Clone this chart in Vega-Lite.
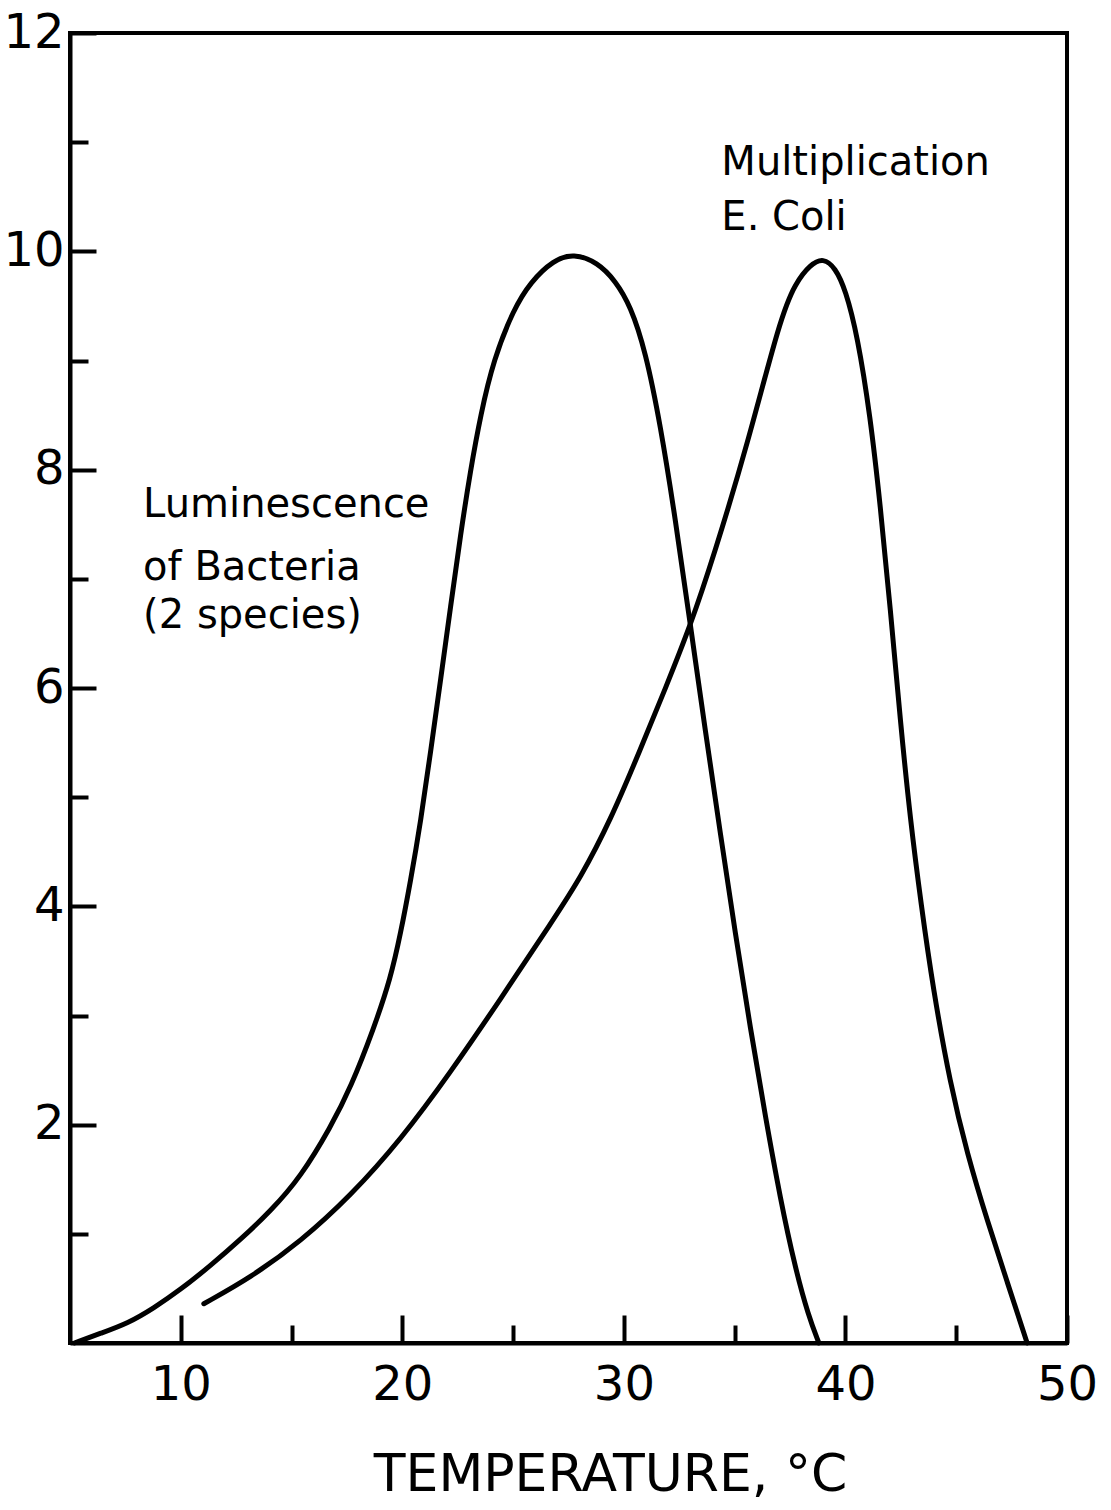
{
  "$schema": "https://vega.github.io/schema/vega-lite/v6.json",
  "autosize": "none",
  "width": 997,
  "height": 1310,
  "padding": {"left": 70, "top": 33, "right": 44, "bottom": 167},
  "background": "white",
  "config": {
    "view": {"stroke": "black", "strokeWidth": 4},
    "font": "DejaVu Sans"
  },
  "datasets": {
    "curves": [
      {"series": "Luminescence", "t": 5.2, "v": 0},
      {"series": "Luminescence", "t": 6.39, "v": 0.09},
      {"series": "Luminescence", "t": 7.61, "v": 0.18},
      {"series": "Luminescence", "t": 8.78, "v": 0.32},
      {"series": "Luminescence", "t": 10.0, "v": 0.49},
      {"series": "Luminescence", "t": 11.35, "v": 0.71},
      {"series": "Luminescence", "t": 12.71, "v": 0.95},
      {"series": "Luminescence", "t": 14.06, "v": 1.21},
      {"series": "Luminescence", "t": 15.41, "v": 1.52},
      {"series": "Luminescence", "t": 16.77, "v": 1.98},
      {"series": "Luminescence", "t": 17.67, "v": 2.34},
      {"series": "Luminescence", "t": 18.71, "v": 2.88},
      {"series": "Luminescence", "t": 19.47, "v": 3.34},
      {"series": "Luminescence", "t": 19.92, "v": 3.75},
      {"series": "Luminescence", "t": 20.37, "v": 4.23},
      {"series": "Luminescence", "t": 20.83, "v": 4.78},
      {"series": "Luminescence", "t": 21.28, "v": 5.42},
      {"series": "Luminescence", "t": 21.73, "v": 6.08},
      {"series": "Luminescence", "t": 22.18, "v": 6.75},
      {"series": "Luminescence", "t": 22.63, "v": 7.41},
      {"series": "Luminescence", "t": 23.08, "v": 8.0},
      {"series": "Luminescence", "t": 23.53, "v": 8.5},
      {"series": "Luminescence", "t": 24.12, "v": 9.01},
      {"series": "Luminescence", "t": 25.02, "v": 9.47},
      {"series": "Luminescence", "t": 25.79, "v": 9.72},
      {"series": "Luminescence", "t": 26.82, "v": 9.92},
      {"series": "Luminescence", "t": 27.73, "v": 9.98},
      {"series": "Luminescence", "t": 28.81, "v": 9.9},
      {"series": "Luminescence", "t": 29.62, "v": 9.73},
      {"series": "Luminescence", "t": 30.3, "v": 9.5},
      {"series": "Luminescence", "t": 30.97, "v": 9.09},
      {"series": "Luminescence", "t": 31.65, "v": 8.41},
      {"series": "Luminescence", "t": 32.33, "v": 7.54},
      {"series": "Luminescence", "t": 33.0, "v": 6.58},
      {"series": "Luminescence", "t": 33.68, "v": 5.6},
      {"series": "Luminescence", "t": 34.36, "v": 4.66},
      {"series": "Luminescence", "t": 35.03, "v": 3.75},
      {"series": "Luminescence", "t": 35.71, "v": 2.88},
      {"series": "Luminescence", "t": 36.39, "v": 2.07},
      {"series": "Luminescence", "t": 37.06, "v": 1.32},
      {"series": "Luminescence", "t": 37.74, "v": 0.68},
      {"series": "Luminescence", "t": 38.33, "v": 0.25},
      {"series": "Luminescence", "t": 38.8, "v": 0},
      {"series": "E. Coli", "t": 11.04, "v": 0.36},
      {"series": "E. Coli", "t": 13.16, "v": 0.6},
      {"series": "E. Coli", "t": 15.41, "v": 0.93},
      {"series": "E. Coli", "t": 17.67, "v": 1.35},
      {"series": "E. Coli", "t": 19.92, "v": 1.86},
      {"series": "E. Coli", "t": 22.18, "v": 2.48},
      {"series": "E. Coli", "t": 24.43, "v": 3.15},
      {"series": "E. Coli", "t": 26.82, "v": 3.88},
      {"series": "E. Coli", "t": 28.04, "v": 4.26},
      {"series": "E. Coli", "t": 29.4, "v": 4.79},
      {"series": "E. Coli", "t": 30.75, "v": 5.44},
      {"series": "E. Coli", "t": 31.88, "v": 6.0},
      {"series": "E. Coli", "t": 33.0, "v": 6.57},
      {"series": "E. Coli", "t": 34.04, "v": 7.2},
      {"series": "E. Coli", "t": 35.58, "v": 8.23},
      {"series": "E. Coli", "t": 37.06, "v": 9.39},
      {"series": "E. Coli", "t": 37.74, "v": 9.71},
      {"series": "E. Coli", "t": 38.42, "v": 9.88},
      {"series": "E. Coli", "t": 39.0, "v": 9.94},
      {"series": "E. Coli", "t": 39.54, "v": 9.85},
      {"series": "E. Coli", "t": 40.0, "v": 9.65},
      {"series": "E. Coli", "t": 40.54, "v": 9.23},
      {"series": "E. Coli", "t": 41.12, "v": 8.49},
      {"series": "E. Coli", "t": 41.57, "v": 7.68},
      {"series": "E. Coli", "t": 42.03, "v": 6.72},
      {"series": "E. Coli", "t": 42.48, "v": 5.69},
      {"series": "E. Coli", "t": 42.93, "v": 4.79},
      {"series": "E. Coli", "t": 43.42, "v": 4.01},
      {"series": "E. Coli", "t": 43.96, "v": 3.24},
      {"series": "E. Coli", "t": 44.73, "v": 2.37},
      {"series": "E. Coli", "t": 45.5, "v": 1.73},
      {"series": "E. Coli", "t": 46.4, "v": 1.12},
      {"series": "E. Coli", "t": 47.3, "v": 0.56},
      {"series": "E. Coli", "t": 48.2, "v": 0}
    ],
    "notes": [
      {"t": 34.4, "v": 10.7, "text": "Multiplication"},
      {"t": 34.4, "v": 10.2, "text": "E. Coli"},
      {"t": 8.3, "v": 7.57, "text": "Luminescence"},
      {"t": 8.3, "v": 6.99, "text": "of Bacteria"},
      {"t": 8.3, "v": 6.55, "text": "(2 species)"}
    ]
  },
  "layer": [
    {
      "data": {"name": "curves"},
      "mark": {"type": "line", "interpolate": "basis", "color": "black", "strokeWidth": 5, "strokeCap": "round", "strokeJoin": "round"},
      "encoding": {
        "x": {
          "field": "t", "type": "quantitative",
          "scale": {"domain": [5, 50], "nice": false, "zero": false},
          "axis": {
            "title": "TEMPERATURE, °C",
            "values": [10, 15, 20, 25, 30, 35, 40, 45, 50],
            "format": "d",
            "labelExpr": "datum.value % 10 === 0 ? datum.label : ''",
            "grid": false,
            "domainColor": "black", "domainWidth": 4,
            "tickColor": "black", "tickWidth": 4,
            "tickSize": {"condition": {"test": "datum.value % 10 === 0", "value": -28}, "value": -18},
            "labelFont": "DejaVu Sans", "labelFontSize": 48, "labelColor": "black",
            "labelPadding": 46, "labelFlush": false, "labelOverlap": false,
            "titleFont": "DejaVu Sans", "titleFontSize": 52, "titleFontWeight": "normal", "titleColor": "black",
            "titleX": 540, "titleY": 147, "titleAlign": "center", "titleBaseline": "alphabetic"
          }
        },
        "y": {
          "field": "v", "type": "quantitative",
          "scale": {"domain": [0, 12], "nice": false},
          "axis": {
            "title": null,
            "values": [1, 2, 3, 4, 5, 6, 7, 8, 9, 10, 11, 12],
            "format": "d",
            "labelExpr": "datum.value % 2 === 0 ? datum.label : ''",
            "grid": false,
            "domainColor": "black", "domainWidth": 4,
            "tickColor": "black", "tickWidth": 4,
            "tickSize": {"condition": {"test": "datum.value % 2 === 0", "value": -26}, "value": -18},
            "labelFont": "DejaVu Sans", "labelFontSize": 48, "labelColor": "black",
            "labelPadding": 32, "labelFlush": false, "labelOverlap": false
          }
        },
        "detail": {"field": "series"}
      }
    },
    {
      "data": {"name": "notes"},
      "mark": {"type": "text", "align": "left", "baseline": "alphabetic", "font": "DejaVu Sans", "fontSize": 40, "color": "black"},
      "encoding": {
        "x": {"field": "t", "type": "quantitative"},
        "y": {"field": "v", "type": "quantitative"},
        "text": {"field": "text"}
      }
    }
  ]
}
